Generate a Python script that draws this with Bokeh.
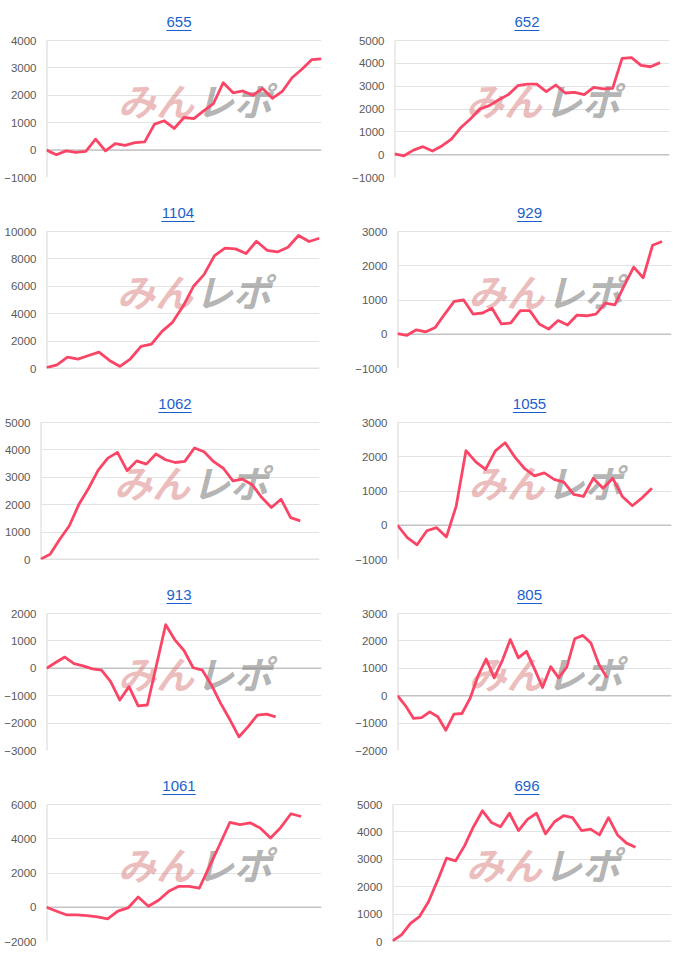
from bokeh.plotting import figure
from bokeh.models import Range1d, FixedTicker, Span, Label, BoxAnnotation
from bokeh.layouts import column, row
from bokeh.embed import file_html
from bokeh.resources import INLINE

# ---------------- data ----------------
titles = ["655", "652", "1104", "929", "1062", "1055", "913", "805", "1061", "696"]

s655 = [0, -170, -30, -80, -50, 400, -30, 240, 170, 270, 300, 950, 1070, 790, 1190,
        1150, 1430, 1700, 2460, 2090, 2160, 2000, 2250, 1890, 2140, 2640, 2950, 3300, 3330]
s652 = [30, -50, 200, 350, 160, 380, 680, 1190, 1560, 2000, 2150, 2410, 2630, 3020, 3090,
        3090, 2760, 3050, 2700, 2730, 2630, 2950, 2880, 2900, 4220, 4250, 3910, 3850, 4030]
s1104 = [70, 270, 830, 680, 950, 1200, 590, 150, 710, 1610, 1780, 2710, 3370, 4540, 6000,
         6850, 8240, 8780, 8730, 8390, 9290, 8630, 8510, 8850, 9710, 9270, 9510]
s929 = [20, -30, 130, 70, 200, 590, 960, 1000, 590, 620, 760, 300, 330, 690, 690,
        300, 150, 400, 270, 560, 540, 590, 910, 860, 1420, 1960, 1650, 2600, 2710]
s1062 = [10, 190, 740, 1230, 2020, 2600, 3260, 3700, 3910, 3240, 3600, 3480, 3850, 3640,
         3540, 3580, 4070, 3930, 3570, 3330, 2870, 2930, 2730, 2260, 1900, 2200, 1530, 1410]
s1055 = [0, -360, -570, -160, -70, -340, 560, 2180, 1850, 1630, 2170, 2410, 1990, 1650,
         1440, 1530, 1340, 1260, 900, 840, 1370, 1080, 1370, 830, 570, 800, 1080]
s913 = [0, 210, 410, 170, 90, -20, -70, -490, -1160, -670, -1370, -1340, 120, 1590, 1040,
        650, 20, -70, -610, -1280, -1870, -2500, -2130, -1710, -1670, -1770]
s805 = [0, -370, -830, -800, -590, -770, -1260, -670, -650, -100, 730, 1340, 650, 1280,
        2050, 1380, 1620, 980, 300, 1060, 650, 1040, 2080, 2200, 1920, 1140, 650]
s1061 = [0, -230, -450, -450, -490, -560, -680, -230, -40, 600, 60, 410, 930, 1220, 1220,
         1110, 2390, 3650, 4950, 4820, 4930, 4620, 4040, 4660, 5460, 5300]
s696 = [20, 240, 660, 910, 1450, 2220, 3040, 2940, 3490, 4190, 4770, 4340, 4190, 4680,
        4050, 4460, 4680, 3930, 4370, 4590, 4520, 4050, 4100, 3890, 4520, 3890, 3590, 3440]

t655 = [-1000, 0, 1000, 2000, 3000, 4000]
t652 = [-1000, 0, 1000, 2000, 3000, 4000, 5000]
t1104 = [0, 2000, 4000, 6000, 8000, 10000]
t929 = [-1000, 0, 1000, 2000, 3000]
t1062 = [0, 1000, 2000, 3000, 4000, 5000]
t1055 = [-1000, 0, 1000, 2000, 3000]
t913 = [-3000, -2000, -1000, 0, 1000, 2000]
t805 = [-2000, -1000, 0, 1000, 2000, 3000]
t1061 = [-2000, 0, 2000, 4000, 6000]
t696 = [0, 1000, 2000, 3000, 4000, 5000]

# number of day slots on each x axis
slots = [28, 29, 26, 29, 29, 28, 30, 34, 27, 31]

series = [s655, s652, s1104, s929, s1062, s1055, s913, s805, s1061, s696]
ticks = [t655, t652, t1104, t929, t1062, t1055, t913, t805, t1061, t696]

# ---------------- layout / style ----------------
# (left border, right border, figure width)
geom = [(46, 19, 340), (54, 31, 360),
        (46, 21, 340), (57, 29, 360),
        (40, 21, 340), (57, 29, 360),
        (46, 19, 340), (57, 29, 360),
        (46, 19, 340), (52, 29, 360)]

LINE = "#fb4566"
BLUE = "#1a5fcc"
H = 191          # figure height
TOP = 8          # border above the frame
HEAD = 32        # title band inside the frame, above the top gridline
DATA_H = 137     # height of the data area
BOT = H - TOP - HEAD - DATA_H


def make(title, vals, tk, nslot, L, R, W):
    fw = W - L - R
    span = tk[-1] - tk[0]
    ytop = tk[-1] + span * HEAD / DATA_H
    p = figure(width=W, height=H,
               x_range=Range1d(0, nslot), y_range=Range1d(tk[0], ytop),
               x_axis_location=None, output_backend="svg", toolbar_location=None,
               min_border_left=L, min_border_right=R, min_border_top=TOP,
               min_border_bottom=BOT, outline_line_color=None,
               background_fill_color="white", border_fill_color="white")
    p.xgrid.visible = False
    ax = p.yaxis[0]
    ax.ticker = FixedTicker(ticks=tk)
    ax.axis_line_color = None
    ax.major_tick_line_color = None
    ax.minor_tick_line_color = None
    ax.major_tick_out = 0
    ax.major_label_standoff = 10
    ax.major_label_text_font = "Liberation Sans"
    ax.major_label_text_font_size = "11.5px"
    ax.major_label_text_color = "#5a5a5a"
    p.ygrid.grid_line_color = "#e3e3e3"
    p.ygrid.grid_line_width = 1

    # vertical axis line, only over the tick span
    p.segment(x0=[0], y0=[tk[0]], x1=[0], y1=[tk[-1]], line_color="#d8d8d8",
              line_width=2, level="underlay")

    zero = Span(location=0, dimension="width", line_color="#c4c4c4", line_width=1.5,
                level="underlay")
    p.add_layout(zero)

    # watermark
    wx = fw / 2 + 10
    wy = DATA_H / 2 + 10
    p.add_layout(Label(x=wx, y=wy, x_units="screen", y_units="screen", text="みん",
                       text_align="right", text_baseline="middle",
                       text_font="Noto Sans CJK JP", text_font_style="bold italic",
                       text_font_size="38px", text_color="#d97c7c", text_alpha=0.5,
                       level="underlay"))
    p.add_layout(Label(x=wx + 2, y=wy, x_units="screen", y_units="screen", text="レポ",
                       text_align="left", text_baseline="middle",
                       text_font="Noto Sans CJK JP", text_font_style="bold italic",
                       text_font_size="38px", text_color="#8a8a8a", text_alpha=0.65,
                       level="underlay"))

    p.line(x=list(range(len(vals))), y=vals, line_color=LINE, line_width=2.8,
           line_join="round")

    # title (link style)
    cx = fw / 2 - 5
    p.add_layout(Label(x=cx, y=DATA_H + 19, x_units="screen", y_units="screen", text=title,
                       text_align="center", text_baseline="middle",
                       text_font="Liberation Sans", text_font_size="15px",
                       text_color=BLUE))
    tw = len(title) * 0.556 * 15
    p.add_layout(BoxAnnotation(left=cx - tw / 2, right=cx + tw / 2,
                               bottom=DATA_H + 9.4, top=DATA_H + 10.6,
                               left_units="screen", right_units="screen",
                               top_units="screen", bottom_units="screen",
                               fill_color=BLUE, fill_alpha=1, line_color=None))
    return p


figs = [make(titles[i], series[i], ticks[i], slots[i], *geom[i]) for i in range(10)]
layout = column(*[row(figs[2 * r], figs[2 * r + 1]) for r in range(5)])

open("out.html", "w").write(file_html(layout, INLINE))
